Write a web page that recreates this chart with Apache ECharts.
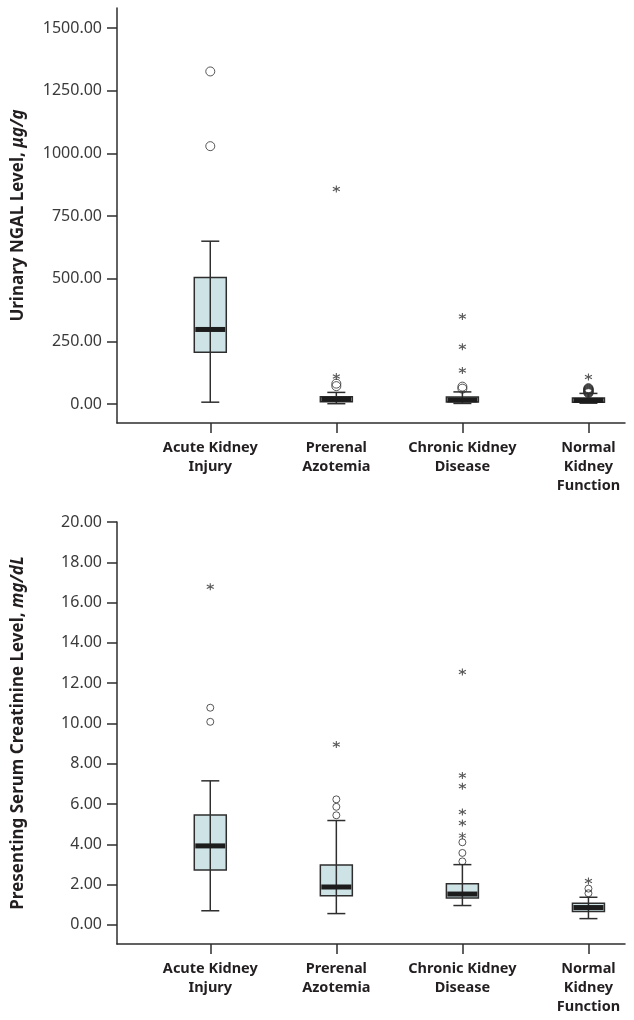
<!DOCTYPE html>
<html>
<head>
<meta charset="utf-8">
<script src="https://cdn.jsdelivr.net/npm/echarts@6/dist/echarts.min.js"></script>
<style>
  html, body { margin: 0; padding: 0; background: #fff; }
  #main { width: 634px; height: 1020px; }
</style>
</head>
<body>
<div id="main"></div>
<script>
// groups, drawn at x = 1..4
const categories = ['Acute Kidney\nInjury', 'Prerenal\nAzotemia', 'Chronic Kidney\nDisease', 'Normal\nKidney\nFunction'];

// urinary NGAL, ug/g
const ngalTicks = [0, 250, 500, 750, 1000, 1250, 1500];
const ngalMin = [8, 2, 3, 4];
const ngalQ1 = [207, 10, 9, 8];
const ngalMedian = [298, 20, 17, 15];
const ngalQ3 = [505, 30, 29, 25];
const ngalMax = [650, 47, 49, 43];
// [group, value]
const ngalOutliers = [[1, 1327], [1, 1029], [2, 82], [2, 72], [3, 70], [3, 62],
  [4, 44], [4, 46], [4, 48], [4, 50], [4, 52], [4, 54], [4, 56], [4, 58], [4, 60], [4, 62], [4, 64]];
const ngalExtremes = [[2, 858], [2, 110], [3, 350], [3, 229], [3, 134], [4, 108]];

// presenting serum creatinine, mg/dL
const creatTicks = [0, 2, 4, 6, 8, 10, 12, 14, 16, 18, 20];
const creatMin = [0.7, 0.56, 0.96, 0.31];
const creatQ1 = [2.72, 1.44, 1.33, 0.66];
const creatMedian = [3.92, 1.88, 1.53, 0.86];
const creatQ3 = [5.45, 2.97, 2.04, 1.07];
const creatMax = [7.15, 5.18, 2.99, 1.37];
const creatOutliers = [[1, 10.78], [1, 10.08], [2, 5.44], [2, 5.86], [2, 6.23],
  [3, 3.15], [3, 3.57], [3, 4.1], [4, 1.57], [4, 1.8]];
const creatExtremes = [[1, 16.78], [2, 8.95], [3, 12.55], [3, 7.41], [3, 6.88], [3, 5.6], [3, 5.06], [3, 4.43], [4, 2.18]];

const ink = '#2e2e2e';
const boxFill = '#cde3e6';
const asterisk = 'path://M5,0L5,10M0.67,2.5L9.33,7.5M0.67,7.5L9.33,2.5';

function boxData (mins, q1s, meds, q3s, maxs) {
  return categories.map((c, i) => [i + 1, mins[i], q1s[i], meds[i], q3s[i], maxs[i]]);
}

function renderBox (params, api) {
  const x = api.value(0);
  const lo = api.coord([x, api.value(1)]);
  const q1 = api.coord([x, api.value(2)]);
  const md = api.coord([x, api.value(3)]);
  const q3 = api.coord([x, api.value(4)]);
  const hi = api.coord([x, api.value(5)]);
  const bw = 32;
  const cw = 18;
  const st = { stroke: ink, lineWidth: 1.5, fill: null };
  return {
    type: 'group',
    children: [
      { type: 'line', shape: { x1: lo[0], y1: lo[1], x2: hi[0], y2: hi[1] }, style: st },
      { type: 'line', shape: { x1: lo[0] - cw / 2, y1: lo[1], x2: lo[0] + cw / 2, y2: lo[1] }, style: st },
      { type: 'line', shape: { x1: hi[0] - cw / 2, y1: hi[1], x2: hi[0] + cw / 2, y2: hi[1] }, style: st },
      { type: 'rect', shape: { x: q3[0] - bw / 2, y: q3[1], width: bw, height: q1[1] - q3[1] },
        style: { fill: boxFill, stroke: ink, lineWidth: 1.5 } },
      { type: 'line', shape: { x1: q3[0], y1: q3[1], x2: q1[0], y2: q1[1] }, style: st },
      { type: 'rect', shape: { x: md[0] - bw / 2 + 1, y: md[1] - 2.5, width: bw - 2, height: 5 },
        style: { fill: '#1c1c1c' } }
    ]
  };
}

function xAxisFor (gi) {
  return {
    type: 'value',
    gridIndex: gi,
    min: 0.26,
    max: 4.29,
    axisLine: { onZero: false, lineStyle: { color: ink, width: 1.5 } },
    axisTick: { customValues: [1, 2, 3, 4], length: 10, lineStyle: { color: ink, width: 1.5 } },
    axisLabel: {
      customValues: [1, 2, 3, 4],
      formatter: v => categories[Math.round(v) - 1],
      margin: 15,
      color: '#231f20',
      fontFamily: 'Noto Sans',
      fontWeight: 'bold',
      fontSize: 14.5,
      lineHeight: 19
    },
    splitLine: { show: false }
  };
}

function yAxisFor (gi, min, max, ticks, plain, italic) {
  return {
    type: 'value',
    gridIndex: gi,
    min: min,
    max: max,
    axisLine: { show: true, onZero: false, lineStyle: { color: ink, width: 1.5 } },
    axisTick: { show: true, customValues: ticks, length: 10, lineStyle: { color: ink, width: 1.5 } },
    axisLabel: {
      customValues: ticks,
      formatter: v => v.toFixed(2),
      margin: 15,
      color: '#3a3a3a',
      fontFamily: 'Noto Sans',
      fontSize: 16
    },
    splitLine: { show: false },
    name: '{b|' + plain + '}{i|' + italic + '}',
    nameLocation: 'middle',
    nameRotate: 90,
    nameGap: 90,
    nameTextStyle: {
      rich: {
        b: { fontFamily: 'Noto Sans', fontWeight: 'bold', fontSize: 17, color: '#231f20' },
        i: { fontFamily: 'Noto Sans', fontStyle: 'italic', fontWeight: 'bold', fontSize: 17, color: '#231f20' }
      }
    }
  };
}

function outlierSeries (gi, data, size) {
  return {
    type: 'scatter', xAxisIndex: gi, yAxisIndex: gi, data: data, z: 5,
    symbol: 'circle', symbolSize: size,
    itemStyle: { color: 'rgba(255,255,255,0)', borderColor: ink, borderWidth: 1 }
  };
}

function extremeSeries (gi, data) {
  return {
    type: 'scatter', xAxisIndex: gi, yAxisIndex: gi, data: data, z: 5,
    symbol: asterisk, symbolSize: 7,
    itemStyle: { color: 'none', borderColor: ink, borderWidth: 1.1 }
  };
}

const chart = echarts.init(document.getElementById('main'), null, { renderer: 'canvas' });

chart.setOption({
  animation: false,
  backgroundColor: '#fff',
  grid: [
    { left: 117, top: 8, width: 508, height: 415 },
    { left: 117, top: 522, width: 508, height: 422 }
  ],
  xAxis: [xAxisFor(0), xAxisFor(1)],
  yAxis: [
    yAxisFor(0, -75, 1580, ngalTicks, 'Urinary NGAL Level, ', 'μg/g'),
    yAxisFor(1, -0.95, 20, creatTicks, 'Presenting Serum Creatinine Level, ', 'mg/dL')
  ],
  series: [
    {
      type: 'custom', xAxisIndex: 0, yAxisIndex: 0,
      renderItem: renderBox,
      encode: { x: 0, y: [1, 2, 3, 4, 5] },
      data: boxData(ngalMin, ngalQ1, ngalMedian, ngalQ3, ngalMax)
    },
    outlierSeries(0, ngalOutliers, 9),
    extremeSeries(0, ngalExtremes),
    {
      type: 'custom', xAxisIndex: 1, yAxisIndex: 1,
      renderItem: renderBox,
      encode: { x: 0, y: [1, 2, 3, 4, 5] },
      data: boxData(creatMin, creatQ1, creatMedian, creatQ3, creatMax)
    },
    outlierSeries(1, creatOutliers, 7),
    extremeSeries(1, creatExtremes)
  ]
});
</script>
</body>
</html>
